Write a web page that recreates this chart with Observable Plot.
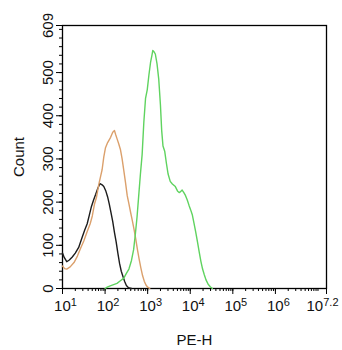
<!DOCTYPE html>
<html><head><meta charset="utf-8">
<script src="https://cdn.jsdelivr.net/npm/d3@7"></script>
<script src="https://cdn.jsdelivr.net/npm/@observablehq/plot@0.6"></script>
<style>
body{margin:0;background:#fff;}
</style></head><body><div id="chart"></div>
<script>
// Series: x as log10(PE-H), y as count
const blackLog = [1.00,1.04,1.10,1.16,1.23,1.30,1.38,1.46,1.52,1.58,1.63,1.68,1.73,1.78,1.83,1.88,1.93,1.97,2.02,2.06,2.10,2.14,2.18,2.22,2.26,2.30,2.34,2.38,2.42,2.46,2.50,2.55,2.62];
const blackCount = [82,72,62,66,73,82,95,118,135,150,170,190,205,218,232,243,240,236,225,212,195,175,155,130,108,82,58,40,28,16,7,2,0];

const orangeLog = [1.00,1.05,1.10,1.18,1.27,1.35,1.42,1.50,1.58,1.65,1.70,1.75,1.80,1.85,1.90,1.93,1.97,2.01,2.06,2.13,2.18,2.22,2.25,2.28,2.32,2.36,2.40,2.44,2.48,2.52,2.56,2.60,2.64,2.68,2.72,2.76,2.80,2.84,2.88,2.92,2.96,3.00,3.05];
const orangeCount = [52,46,45,50,60,75,92,110,132,150,168,195,212,240,262,275,305,326,338,350,362,366,356,347,335,322,300,273,245,215,196,176,157,137,115,90,68,48,30,17,8,3,0];

const greenLog = [2.00,2.05,2.12,2.20,2.28,2.36,2.44,2.50,2.56,2.62,2.67,2.71,2.75,2.79,2.83,2.87,2.91,2.95,2.99,3.03,3.07,3.10,3.12,3.15,3.18,3.22,3.26,3.30,3.33,3.36,3.40,3.44,3.48,3.53,3.58,3.65,3.70,3.74,3.78,3.81,3.85,3.89,3.93,3.97,4.01,4.05,4.09,4.13,4.17,4.21,4.25,4.29,4.33,4.37,4.42,4.47,4.52];
const greenCount = [0,3,6,9,12,18,24,35,45,65,90,125,165,215,265,310,385,440,460,495,525,540,551,548,543,520,485,425,365,330,318,290,265,248,242,236,226,222,225,228,222,215,205,193,182,170,150,130,108,85,63,45,32,20,10,4,0];

const xMajorExp = [1,2,3,4,5,6,7.2];
const yMajor = [0,100,200,300,400,500,609];
const xLabel = "PE-H";
const yLabel = "Count";

const toRows = (logs, counts) => logs.map((l, i) => ({x: Math.pow(10, l), y: counts[i]}));
const black = toRows(blackLog, blackCount);
const orange = toRows(orangeLog, orangeCount);
const green = toRows(greenLog, greenCount);

const xMajor = xMajorExp.map(e => Math.pow(10, e));
const xMinor = [];
for (let e = 1; e <= 6; e++) for (let m = 2; m <= 10; m++) xMinor.push(m * Math.pow(10, e));
const yMinor = d3.range(0, 609, 20);

const chart = Plot.plot({
  width: 342, height: 350,
  marginLeft: 62, marginRight: 16, marginTop: 25, marginBottom: 62,
  style: {fontFamily: "'Liberation Sans', Arial, sans-serif", fontSize: "15px", background: "#fff", color: "#000", overflow: "visible"},
  x: {type: "log", domain: [10, Math.pow(10, 7.2)]},
  y: {domain: [0, 609]},
  marks: [
    Plot.axisX({ticks: xMinor, tickSize: 3, tickFormat: () => "", label: null, stroke: "#000"}),
    Plot.axisX({ticks: xMajor, tickSize: 6, tickPadding: 6, stroke: "#000", fill: "#111",
      tickFormat: d => "10^" + (Math.round(Math.log10(d) * 10) / 10),
      label: xLabel, labelAnchor: "center", labelArrow: "none", labelOffset: 56, fontSize: 15}),
    Plot.axisY({ticks: yMinor, tickSize: 3, tickFormat: () => "", label: null, stroke: "#000"}),
    Plot.axisY({ticks: yMajor, tickSize: 6, tickPadding: 4, tickRotate: -90, stroke: "#000", fill: "#111",
      label: yLabel, labelAnchor: "center", labelArrow: "none", labelOffset: 49, fontSize: 15}),
    Plot.frame({stroke: "#000", strokeWidth: 1.3}),
    Plot.line(black, {x: "x", y: "y", stroke: "#1c1c1c", strokeWidth: 1.4}),
    Plot.line(orange, {x: "x", y: "y", stroke: "#dba06c", strokeWidth: 1.4}),
    Plot.line(green, {x: "x", y: "y", stroke: "#5fd35f", strokeWidth: 1.4})
  ]
});
document.getElementById("chart").appendChild(chart);

// superscript exponents on x tick labels
d3.select(chart).selectAll("text").each(function () {
  const t = this.textContent;
  if (/^10\^/.test(t)) {
    const exp = t.slice(3);
    const sel = d3.select(this);
    sel.text(null);
    sel.attr("dx", exp.length > 1 ? "-4" : "3");
    sel.append("tspan").text("10");
    sel.append("tspan").attr("dy", "-5").attr("font-size", "11px").text(exp);
  }
});
</script>
</body></html>
